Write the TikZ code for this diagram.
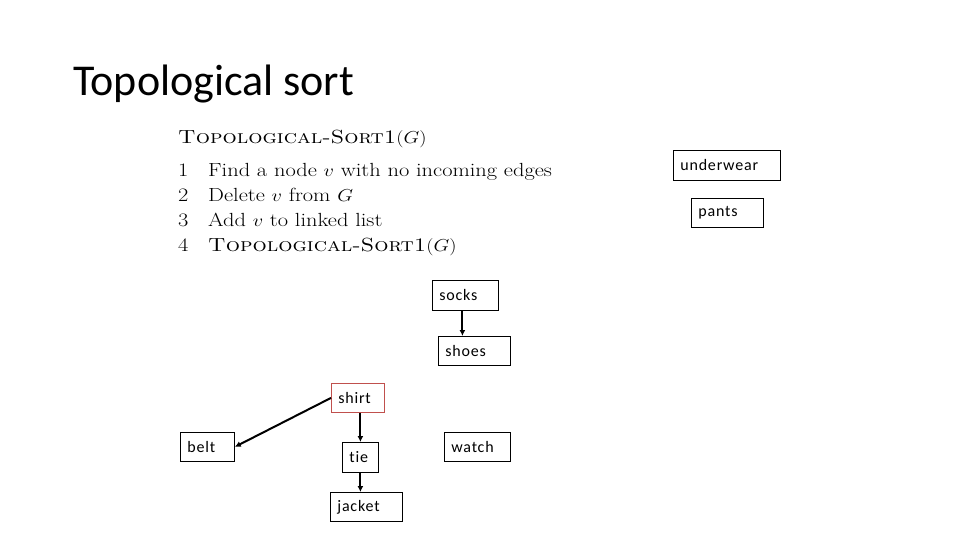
\documentclass[tikz,border=0pt]{standalone}
\usepackage{fontspec}
\setsansfont{Carlito}[Ligatures=NoCommon]
\usetikzlibrary{arrows.meta}
\definecolor{shirtred}{RGB}{192,80,77}
\tikzset{
  gbox/.style={draw=black,line width=0.8pt,anchor=north west,inner xsep=7pt,
    inner ysep=0pt,align=left,
    font=\sffamily\fontsize{16}{18}\selectfont\addfontfeature{LetterSpace=5}},
  garrow/.style={line width=2pt,-{Latex[length=6pt,width=6pt]}},
  algtext/.style={anchor=base west,inner sep=0pt,font=\fontsize{19}{22}\selectfont}}
% name, left x, top y, width, height, text
\newcommand{\gitem}[6]{%
  \pgfmathsetmacro{\gtw}{#4-14}%
  \node[gbox,text width=\gtw pt,minimum height=#5pt] (#1) at (#2,#3) {#6};}
\newcommand{\algwide}[1]{\scalebox{1.18}[1]{#1}}
\newcommand{\aline}[3]{%
  \node[algtext] (num#2) at (178,#1) {\algwide{#2}};
  \node[algtext] (line#2) at (208,#1) {\algwide{#3}};}

\begin{document}
\begin{tikzpicture}[x=1pt,y=-1pt]
  \useasboundingbox (0,0) rectangle (960,540);
  \node[anchor=base west,inner sep=0pt,font=\sffamily\fontsize{44}{50}\selectfont]
    (title) at (73,96) {Topological sort};
  % algorithm
  \node[algtext] (algo) at (178,144)
    {\algwide{\textsc{Topological-Sort1}$(G)$}};
  \aline{176}{1}{Find a node $v$ with no incoming edges}
  \aline{201}{2}{Delete $v$ from $G$}
  \aline{226}{3}{Add $v$ to linked list}
  \aline{251}{4}{\textsc{Topological-Sort1}$(G)$}
  % garments
  \gitem{underwear}{673}{150}{107}{30}{underwear}
  \gitem{pants}{691}{198}{72}{29}{pants}
  \gitem{socks}{432}{280}{66}{30}{socks}
  \gitem{shoes}{438}{336}{72}{29}{shoes}
  \gitem{belt}{180}{432}{54}{29}{belt}
  \gitem{tie}{342}{442}{36}{30}{tie}
  \gitem{jacket}{330}{492}{72}{29}{jacket}
  \gitem{watch}{444}{432}{66}{29}{watch}
  \gitem{shirt}{331}{383}{53}{29}{shirt}
  \draw[shirtred,line width=0.8pt] (shirt.north west) rectangle (shirt.south east);
  \draw[garrow] ([xshift=-3pt]socks.south) -- ([xshift=-3pt]socks.south |- shoes.north);
  \draw[garrow] (tie.north |- shirt.south) -- (tie.north);
  \draw[garrow] (tie.south) -- (tie.south |- jacket.north);
  \draw[garrow] (shirt.west) -- (belt.east);
\end{tikzpicture}
\end{document}
